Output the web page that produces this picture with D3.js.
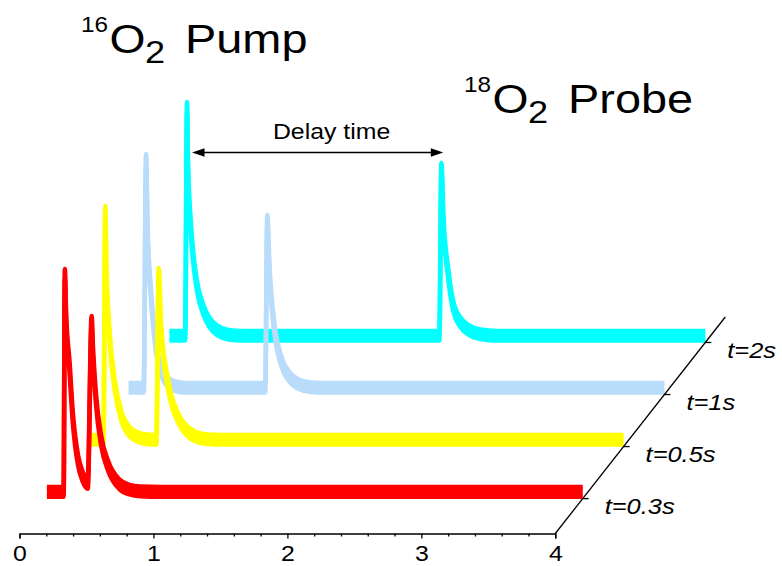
<!DOCTYPE html>
<html>
<head>
<meta charset="utf-8">
<script src="https://cdn.jsdelivr.net/npm/d3@7"></script>
<style>
  html, body { margin: 0; padding: 0; background: #fff; }
  svg { display: block; }
  text { font-family: "Liberation Sans", Arial, sans-serif; fill: #000; }
</style>
</head>
<body>
<svg id="chart" width="782" height="566"></svg>
<script>
// Time axis (s)
const timeTicks = [0, 1, 2, 3, 4];
const timeMinorTicks = [0.2, 0.4, 0.6, 0.8, 1.2, 1.4, 1.6, 1.8, 2.2, 2.4, 2.6, 2.8, 3.2, 3.4, 3.6, 3.8];

// Pump-probe delays, front to back
const delayLabels = ["t=0.3s", "t=0.5s", "t=1s", "t=2s"];
const traceColors = ["#ff0000", "#ffff00", "#b9dcfb", "#00ffff"];

// Mass signal traces: [time (s), intensity (a.u.)]
const signal03 = [[0, 0.02], [0.125, 0.02], [0.134, 2.20], [0.143, 1.77], [0.169, 1.27], [0.193, 0.77],
  [0.232, 0.34], [0.268, 0.17], [0.305, 0.10], [0.334, 1.73], [0.343, 1.44], [0.367, 0.94],
  [0.404, 0.54], [0.46, 0.27], [0.538, 0.10], [0.61, 0.045], [0.70, 0.025], [0.85, 0.02], [4, 0.02]];
const signal05 = [[0, 0.02], [0.117, 0.02], [0.131, 2.31], [0.138, 1.75], [0.162, 1.08], [0.20, 0.58],
  [0.252, 0.25], [0.30, 0.12], [0.36, 0.055], [0.44, 0.025], [0.512, 0.02], [0.53, 1.69], [0.547, 1.13],
  [0.60, 0.57], [0.678, 0.23], [0.74, 0.11], [0.81, 0.05], [0.90, 0.025], [1.0, 0.02], [4, 0.02]];
const signal1 = [[0, 0.02], [0.113, 0.02], [0.13, 2.31], [0.141, 1.61], [0.167, 0.95], [0.206, 0.41],
  [0.257, 0.15], [0.30, 0.07], [0.35, 0.035], [0.42, 0.02], [1.02, 0.02], [1.035, 1.70], [1.052, 1.18],
  [1.089, 0.61], [1.141, 0.28], [1.20, 0.13], [1.27, 0.055], [1.36, 0.025], [1.45, 0.02], [4, 0.02]];
const signal2 = [[0, 0.02], [0.117, 0.02], [0.131, 2.31], [0.137, 1.76], [0.16, 1.09], [0.197, 0.59],
  [0.25, 0.29], [0.30, 0.15], [0.36, 0.07], [0.44, 0.03], [0.55, 0.02], [2.015, 0.02], [2.03, 1.70],
  [2.045, 1.16], [2.079, 0.66], [2.116, 0.33], [2.169, 0.16], [2.23, 0.08], [2.32, 0.035], [2.45, 0.02], [4, 0.02]];
const traces = [signal03, signal05, signal1, signal2];

// Detector noise envelope (a.u.)
const noiseBand = 0.095;

// Delay annotation on the t=2s trace: from pump peak to probe peak
const delayFrom = 0.168, delayTo = 2.044, delayLevel = 1.90;

// ---- layout ----
const svg = d3.select("#chart");
const stretch = 1.13;            // horizontal text stretch
const axisY = 533.5;
const depthVec = [170, -216.5];  // direction of the delay (depth) axis

const x = d3.scaleLinear().domain([0, 4]).range([19.5, 555.3]);
const y = d3.scaleLinear().domain([0, 2.5]).range([axisY, axisY - 250]);
const depth = d3.scalePoint().domain(delayLabels).range([0, 1]).padding(0.58).align(0.578);
const offsetOf = label => [depth(label) * depthVec[0], depth(label) * depthVec[1]];

// ---- traces, back to front ----
const lineLow = d3.line().curve(d3.curveMonotoneX).x(d => x(d[0])).y(d => y(d[1]));
const lineHigh = d3.line().curve(d3.curveMonotoneX).x(d => x(d[0])).y(d => y(d[1] + noiseBand));
const band = d3.area().curve(d3.curveMonotoneX)
  .x(d => x(d[0])).y0(d => y(d[1])).y1(d => y(d[1] + noiseBand));

for (let i = traces.length - 1; i >= 0; i--) {
  const [ox, oy] = offsetOf(delayLabels[i]);
  const g = svg.append("g").attr("transform", `translate(${ox},${oy})`);
  const col = traceColors[i];
  g.append("path").attr("d", band(traces[i])).attr("fill", col);
  [lineLow, lineHigh].forEach(gen => {
    g.append("path").attr("d", gen(traces[i]))
      .attr("fill", "none").attr("stroke", col)
      .attr("stroke-width", 4.6).attr("stroke-linejoin", "round").attr("stroke-linecap", "butt");
  });
}

// ---- time axis ----
const axisG = svg.append("g").attr("transform", `translate(0,${axisY})`);
axisG.call(d3.axisBottom(x).tickValues(timeTicks).tickSize(5).tickSizeOuter(5).tickFormat(d3.format("d")));
axisG.append("g").call(d3.axisBottom(x).tickValues(timeMinorTicks).tickSize(3).tickFormat(""))
  .select(".domain").remove();
axisG.selectAll("path, line").attr("stroke", "#000").attr("stroke-width", 1.3);
axisG.selectAll("text")
  .attr("y", 27.5).attr("dy", null)
  .attr("transform", `scale(${stretch},1)`)
  .style("font-size", "22px").attr("fill", "#000");

// ---- delay (depth) axis ----
const x4 = x(4);
svg.append("line")
  .attr("x1", x4).attr("y1", axisY)
  .attr("x2", x4 + depthVec[0]).attr("y2", axisY + depthVec[1])
  .attr("stroke", "#000").attr("stroke-width", 1.3);
delayLabels.forEach(label => {
  const [ox, oy] = offsetOf(label);
  const px = x4 + ox, py = axisY + oy;
  svg.append("line").attr("x1", px).attr("y1", py).attr("x2", px + 6).attr("y2", py)
    .attr("stroke", "#000").attr("stroke-width", 1.3);
  svg.append("text")
    .attr("transform", `translate(${px + 22},${py + 15.5}) scale(${stretch},1)`)
    .style("font-size", "22.5px").style("font-style", "italic")
    .text(label);
});

// ---- delay time arrow ----
{
  const [ox, oy] = offsetOf(delayLabels[3]);
  const xa = x(delayFrom) + ox, xb = x(delayTo) + ox, ya = y(delayLevel) + oy;
  svg.append("line").attr("x1", xa + 8).attr("y1", ya).attr("x2", xb - 8).attr("y2", ya)
    .attr("stroke", "#000").attr("stroke-width", 1.6);
  svg.append("path").attr("d", `M${xa},${ya}L${xa + 12.5},${ya - 4.2}L${xa + 12.5},${ya + 4.2}Z`).attr("fill", "#000");
  svg.append("path").attr("d", `M${xb},${ya}L${xb - 12.5},${ya - 4.2}L${xb - 12.5},${ya + 4.2}Z`).attr("fill", "#000");
  svg.append("text")
    .attr("transform", `translate(${x(1.21) + ox},${y(2.03) + oy}) scale(${stretch},1)`)
    .attr("text-anchor", "middle").style("font-size", "22px")
    .text("Delay time");
}

// ---- species labels ----
function isotopeLabel(x0, baseline, mass, name) {
  const parts = [
    { t: mass, dx: 0, dy: -21.6, fs: 21.5 },
    { t: "O", dx: 28.5, dy: 0, fs: 41 },
    { t: "2", dx: 64, dy: 10, fs: 32 },
    { t: name, dx: 104, dy: 0, fs: 41.5 }
  ];
  parts.forEach(p => {
    svg.append("text")
      .attr("transform", `translate(${x0 + p.dx},${baseline + p.dy}) scale(${stretch},1)`)
      .style("font-size", p.fs + "px")
      .text(p.t);
  });
}
isotopeLabel(81, 53.3, "16", "Pump");
isotopeLabel(464, 113.3, "18", "Probe");
</script>
</body>
</html>
